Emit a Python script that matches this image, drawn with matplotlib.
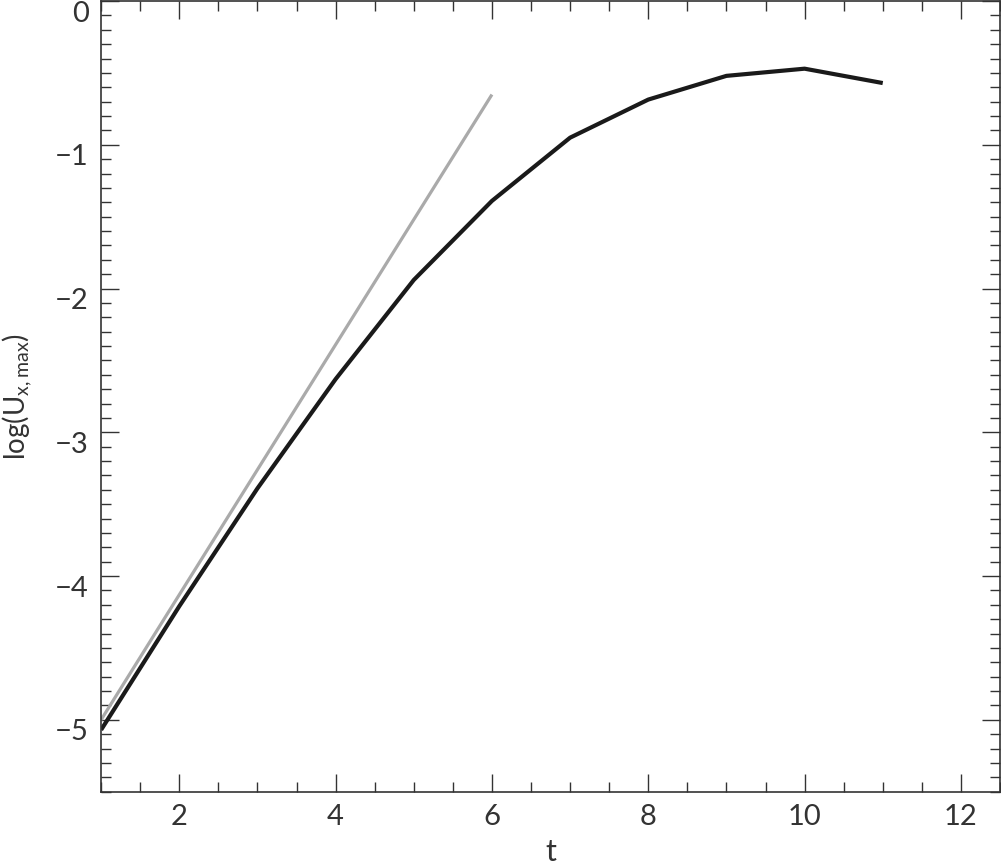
import numpy as np
import matplotlib
matplotlib.use("Agg")
import matplotlib.pyplot as plt
import matplotlib.transforms as mtransforms
from matplotlib.ticker import MultipleLocator

# data
t = [1, 2, 3, 4, 5, 6, 7, 8, 9, 10, 11]
log_u = [-5.07, -4.21, -3.39, -2.63, -1.94, -1.39, -0.95, -0.685, -0.52, -0.47, -0.57]

# linear growth fit (grey)
t_fit = [1, 6]
log_fit = [-5.0, -0.65]

plt.rcParams['font.family'] = ['Lato', 'DejaVu Sans']
plt.rcParams['mathtext.fontset'] = 'custom'
plt.rcParams['mathtext.rm'] = 'Lato'
plt.rcParams['axes.unicode_minus'] = True

fig = plt.figure(figsize=(10.01, 8.64), dpi=100)
ax = fig.add_axes([0.101, 0.0837, 0.898, 0.915])

ax.plot(t_fit, log_fit, color='#aaaaaa', lw=2.3, solid_capstyle='butt')
ax.plot(t, log_u, color='#1a1a1a', lw=3.0, solid_capstyle='butt')

ax.set_xlim(1, 12.5)
ax.set_ylim(-5.5, 0)
ax.xaxis.set_major_locator(MultipleLocator(2))
ax.xaxis.set_minor_locator(MultipleLocator(0.5))
ax.yaxis.set_major_locator(MultipleLocator(1))
ax.yaxis.set_minor_locator(MultipleLocator(0.1))

ax.tick_params(which='both', direction='in', top=True, right=True,
               width=1.0, color='#333333', labelsize=21, labelcolor='#333333')
ax.tick_params(which='major', length=13, pad=9)
ax.tick_params(which='minor', length=7)
for s in ax.spines.values():
    s.set_linewidth(1.2)
    s.set_color('#333333')

# y tick labels sit a little below their ticks, like the reference
off = mtransforms.ScaledTranslation(0, -10 / 100, fig.dpi_scale_trans)
for lab in ax.get_yticklabels():
    lab.set_transform(lab.get_transform() + off)

ax.set_xlabel('t', fontsize=22, color='#333333')
ax.xaxis.set_label_coords(0.5, -0.058)
ax.set_ylabel(r'log(U$_{\rm x,max}$)', fontsize=20, color='#333333')
ax.yaxis.set_label_coords(-0.074, 0.5)

fig.savefig('out.png', dpi=100)
